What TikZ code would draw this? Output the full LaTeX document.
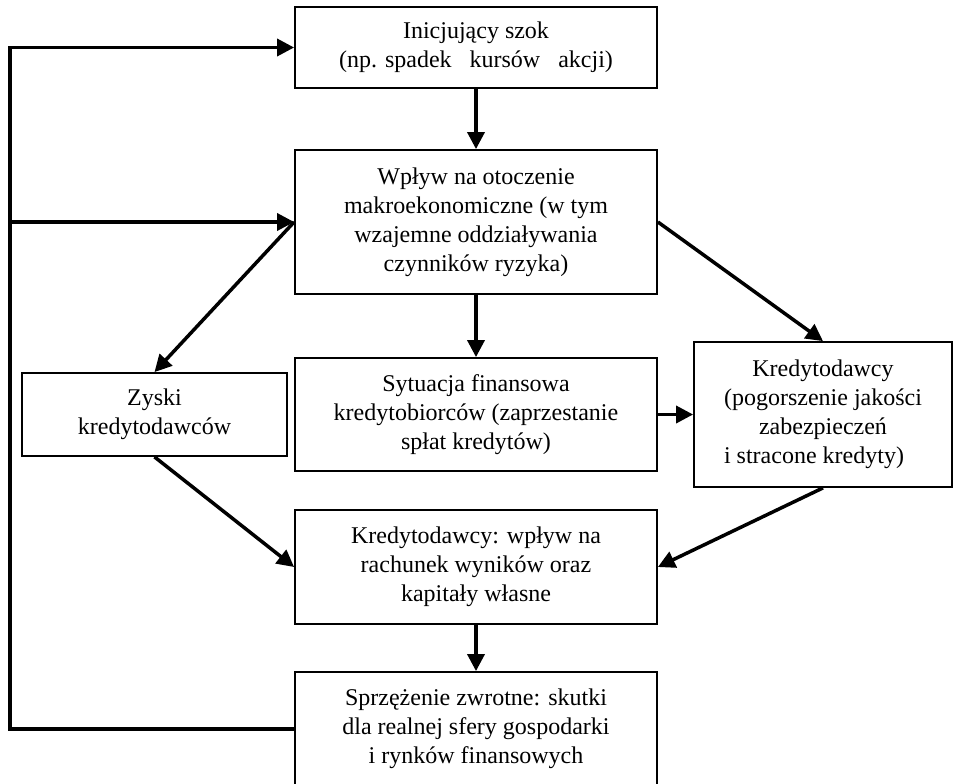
\documentclass[tikz,border=0pt]{standalone}
\usepackage{fontspec}
\setmainfont{Liberation Serif}
\usetikzlibrary{arrows.meta}

\begin{document}
\begin{tikzpicture}[x=1pt,y=-1pt,
        box/.style={draw,line width=1.8pt,align=center,inner sep=0pt,
            font=\fontsize{24}{29}\selectfont},
        arr/.style={line width=3.5pt,-{Triangle[length=17pt,width=17pt]}}]
        % ramka obrazka
        \useasboundingbox (0,0) rectangle (953,784);

        % Bloki srodkowe
        \node[box,minimum width=362pt,minimum height=81pt] (szok) at (476,47.5)
            {Inicjujący szok\\(np. spadek~~~kursów~~~akcji)};
        \node[box,minimum width=362pt,minimum height=144pt] (wplyw) at (476,222)
            {Wpływ na otoczenie\\makroekonomiczne (w tym\\wzajemne oddziaływania\\czynników ryzyka)};
        \node[box,minimum width=362pt,minimum height=113pt] (sytuacja) at (476,414.5)
            {Sytuacja finansowa\\kredytobiorców (zaprzestanie\\spłat kredytów)};
        \node[box,minimum width=362pt,minimum height=114pt] (wynik) at (476,567)
            {Kredytodawcy: wpływ na\\rachunek wyników oraz\\kapitały własne};
        \node[box,minimum width=362pt,minimum height=114pt] (sprz) at (476,729)
            {Sprzężenie zwrotne: skutki\\dla realnej sfery gospodarki\\i rynków finansowych};

        % Bloki boczne
        \node[box,minimum width=265pt,minimum height=83pt] (zyski) at (154.5,414.5)
            {Zyski\\kredytodawców};
        \node[box,minimum width=258pt,minimum height=145pt] (kred) at (823,414.5)
            {Kredytodawcy\\(pogorszenie jakości\\zabezpieczeń\\i stracone kredyty)\hspace*{18pt}};

        % Strzalki
        \draw[arr] (szok) -- (wplyw);
        \draw[arr] (wplyw) -- (sytuacja);
        \draw[arr] (wplyw.west) -- (zyski.north);
        \draw[arr] (wplyw.east) -- (kred.north);
        \draw[arr] (sytuacja) -- (kred);
        \draw[arr] (zyski.south) -- (wynik.west);
        \draw[arr] (kred.south) -- (wynik.east);
        \draw[arr] (wynik) -- (sprz);

        % Petla sprzezenia zwrotnego
        \coordinate (fb) at (10,400);
        \draw[arr] (sprz.west) -| (fb) |- (szok.west);
        \draw[arr] (fb |- wplyw.west) -- (wplyw.west);
    \end{tikzpicture}
\end{document}
